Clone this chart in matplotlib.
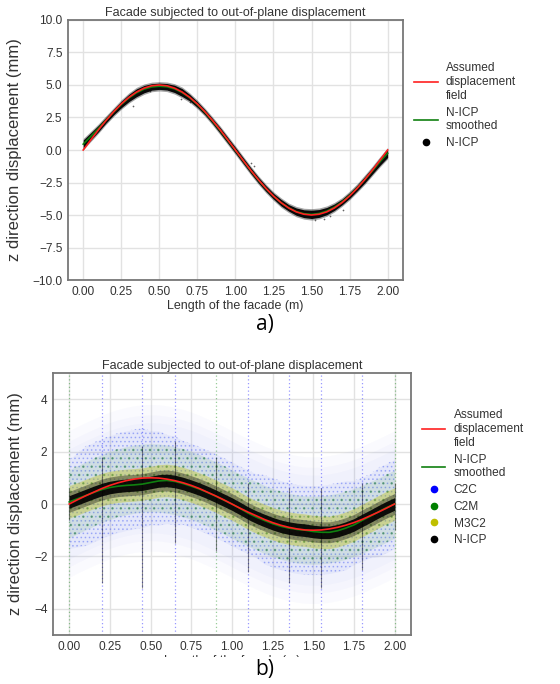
import matplotlib
matplotlib.use('Agg')
import matplotlib.pyplot as plt
from matplotlib.lines import Line2D
from matplotlib.patches import Rectangle
from matplotlib.transforms import Bbox
import numpy as np

plt.rcParams['font.family'] = ['Liberation Sans', 'DejaVu Sans']
plt.rcParams['hatch.linewidth'] = 0.7

# ---------------- data ----------------
positions_m = [0.00, 0.05, 0.10, 0.15, 0.20, 0.25, 0.30, 0.35, 0.40, 0.45,
               0.50, 0.55, 0.60, 0.65, 0.70, 0.75, 0.80, 0.85, 0.90, 0.95,
               1.00, 1.05, 1.10, 1.15, 1.20, 1.25, 1.30, 1.35, 1.40, 1.45,
               1.50, 1.55, 1.60, 1.65, 1.70, 1.75, 1.80, 1.85, 1.90, 1.95, 2.00]

# panel a)
assumed_a = [0.00, 0.78, 1.55, 2.27, 2.94, 3.54, 4.05, 4.46, 4.76, 4.94,
             5.00, 4.94, 4.76, 4.46, 4.05, 3.54, 2.94, 2.27, 1.55, 0.78,
             0.00, -0.78, -1.55, -2.27, -2.94, -3.54, -4.05, -4.46, -4.76, -4.94,
             -5.00, -4.94, -4.76, -4.46, -4.05, -3.54, -2.94, -2.27, -1.55, -0.78, 0.00]
smoothed_a = [0.45, 1.05, 1.65, 2.30, 2.92, 3.50, 4.00, 4.40, 4.68, 4.85,
              4.90, 4.86, 4.70, 4.42, 4.02, 3.50, 2.90, 2.22, 1.50, 0.74,
              -0.02, -0.80, -1.57, -2.30, -2.96, -3.55, -4.05, -4.45, -4.74, -4.90,
              -4.95, -4.88, -4.70, -4.40, -4.00, -3.50, -2.92, -2.28, -1.60, -0.90, -0.25]
nicp_spread_a = [0.32, 0.28, 0.25, 0.22, 0.22, 0.25, 0.28, 0.30, 0.28, 0.25,
                 0.24, 0.25, 0.28, 0.30, 0.25, 0.22, 0.20, 0.20, 0.22, 0.22,
                 0.22, 0.22, 0.22, 0.22, 0.22, 0.22, 0.25, 0.25, 0.28, 0.30,
                 0.32, 0.30, 0.28, 0.25, 0.22, 0.22, 0.22, 0.25, 0.25, 0.28, 0.32]
nicp_outlier_x_a = [0.33, 0.64, 0.70, 1.10, 1.12, 1.52, 1.62, 1.66, 0.44, 1.71, 1.58]
nicp_outlier_y_a = [3.40, 3.90, 3.70, -1.00, -1.20, -5.40, -5.10, -4.20, 4.50, -4.60, -5.30]

# panel b)
assumed_b = [0.00, 0.16, 0.31, 0.45, 0.59, 0.71, 0.81, 0.89, 0.95, 0.99,
             1.00, 0.99, 0.95, 0.89, 0.81, 0.71, 0.59, 0.45, 0.31, 0.16,
             0.00, -0.16, -0.31, -0.45, -0.59, -0.71, -0.81, -0.89, -0.95, -0.99,
             -1.00, -0.99, -0.95, -0.89, -0.81, -0.71, -0.59, -0.45, -0.31, -0.16, 0.00]
smoothed_b = [0.08, 0.20, 0.32, 0.44, 0.55, 0.63, 0.68, 0.71, 0.73, 0.76,
              0.82, 0.88, 0.90, 0.86, 0.78, 0.68, 0.57, 0.44, 0.30, 0.15,
              0.00, -0.17, -0.35, -0.50, -0.63, -0.75, -0.85, -0.92, -0.97, -1.00,
              -1.05, -1.08, -1.08, -1.02, -0.92, -0.80, -0.63, -0.47, -0.30, -0.14, 0.00]
c2c_halo_spreads_b = [2.8, 2.4, 2.1]
c2c_spread_b = [1.7, 1.8, 1.9, 1.9, 1.9, 1.9, 1.9, 1.9, 1.9, 1.9,
                1.8, 1.8, 1.7, 1.7, 1.6, 1.6, 1.6, 1.6, 1.6, 1.6,
                1.6, 1.6, 1.6, 1.6, 1.7, 1.7, 1.7, 1.7, 1.7, 1.7,
                1.7, 1.7, 1.7, 1.7, 1.7, 1.6, 1.6, 1.6, 1.7, 1.7, 1.7]
c2m_spread_b = [1.3] * 41
m3c2_spread_b = [0.62] * 41
nicp_spread_b = [0.24] * 41
nicp_fuzz_b = [0.40] * 41

streak_x_b = [0.00, 0.20, 0.45, 0.65, 0.90, 1.10, 1.35, 1.55, 1.80, 2.00]
streak_colors_b = ['g', 'b', 'b', 'b', 'g', 'b', 'b', 'b', 'b', 'g']
streak_lo_b = [-0.6, -3.0, -3.2, -1.5, -1.8, -2.6, -3.0, -3.2, -2.5, -1.0]
streak_hi_b = [0.6, 1.8, 2.2, 2.4, 1.8, 0.8, 0.6, 0.6, 0.8, 0.8]

xticks = [0.00, 0.25, 0.50, 0.75, 1.00, 1.25, 1.50, 1.75, 2.00]
yticks_a = [-10.0, -7.5, -5.0, -2.5, 0.0, 2.5, 5.0, 7.5, 10.0]
yticks_b = [-4, -2, 0, 2, 4]

title = 'Facade subjected to out-of-plane displacement'
xlabel = 'Length of the facade (m)'
ylabel = 'z direction displacement (mm)'

# ---------------- figure ----------------
fig = plt.figure(figsize=(5.6, 6.84), dpi=100)
TXT = '#333333'
RED = '#ff2020'
GRN = '#108010'


def fmt(v, nd):
    s = ('%.' + str(nd) + 'f') % v
    return s.replace('-', '\u2212')


def style(ax):
    ax.set_facecolor('white')
    ax.grid(True, color='#e2e2e2', lw=1.0)
    ax.set_axisbelow(True)
    for s in ax.spines.values():
        s.set_color('#777777')
        s.set_linewidth(1.3)
    ax.tick_params(length=0, pad=4, labelsize=8.6, labelcolor=TXT)
    ax.set_xlim(-0.1, 2.1)
    ax.set_xticks(xticks)
    ax.set_xticklabels([fmt(t, 2) for t in xticks])


x = np.array(positions_m)

# ---- panel a ----
axa = fig.add_axes([0.1214, 0.5906, 0.598, 0.3802])
style(axa)
sa = np.array(smoothed_a)
wa = np.array(nicp_spread_a)
axa.fill_between(x, sa - wa - 0.12, sa + wa + 0.12, color='black', alpha=0.35, lw=0, zorder=2)
axa.fill_between(x, sa - wa, sa + wa, color='black', alpha=0.95, lw=0, zorder=2)
axa.scatter(nicp_outlier_x_a, nicp_outlier_y_a, s=1.5, color='black', alpha=0.6, lw=0, zorder=2)
axa.plot(x, assumed_a, color=RED, lw=1.2, zorder=4)
axa.plot(x, smoothed_a, color=GRN, lw=1.2, zorder=3)
axa.set_ylim(-10, 10)
axa.set_yticks(yticks_a)
axa.set_yticklabels([fmt(t, 1) for t in yticks_a])
axa.set_title(title, fontsize=9, color=TXT, pad=3)
axa.set_xlabel(xlabel, fontsize=9, color=TXT, labelpad=2)
axa.set_ylabel(ylabel, fontsize=12, color=TXT)
axa.yaxis.set_label_coords(-0.137, 0.5)

handles_a = [Line2D([], [], color=RED, lw=1.2),
             Line2D([], [], color=GRN, lw=1.2),
             Line2D([], [], color='black', marker='o', ls='none', markersize=4.5)]
labels_a = ['Assumed\ndisplacement\nfield', 'N-ICP\nsmoothed', 'N-ICP']
leg = axa.legend(handles_a, labels_a, loc='center left', bbox_to_anchor=(1.0, 0.67),
                 frameon=False, fontsize=8.6, handlelength=2.0, handletextpad=0.7,
                 labelspacing=0.4)
for t in leg.get_texts():
    t.set_color(TXT)

fig.text(0.473, 0.525, 'a)', fontsize=15, ha='center', va='center', color='black',
         family=['Open Sans', 'DejaVu Sans'])

# ---- panel b ----
axb = fig.add_axes([0.0946, 0.0716, 0.639, 0.3831])
style(axb)
cb = np.array(assumed_b)
sb = np.array(smoothed_b)
db = np.array(c2c_spread_b)
gb = np.array(c2m_spread_b)
# C2C cloud: fading halo + dense core with speckle texture
for h in c2c_halo_spreads_b:
    axb.fill_between(x, cb - h, cb + h, color=(0.2, 0.3, 0.9), alpha=0.025, lw=0, zorder=1)
axb.fill_between(x, cb - db, cb + db, color=(0.2, 0.3, 0.9), alpha=0.06, lw=0, zorder=1)
axb.fill_between(x, cb - db, cb + db, facecolor='none', edgecolor=(0.2, 0.3, 0.95, 0.32),
                 hatch='....', lw=0, zorder=1)
# C2M cloud
axb.fill_between(x, cb - gb, cb + gb, color='g', alpha=0.09, lw=0, zorder=1)
axb.fill_between(x, cb - gb, cb + gb, facecolor='none', edgecolor=(0.0, 0.45, 0.0, 0.3),
                 hatch='..', lw=0, zorder=1)
axb.vlines(streak_x_b, -5, 5, colors=streak_colors_b, linestyles=(0, (1, 2)),
           lw=0.9, alpha=0.4, zorder=1)
# M3C2
axb.fill_between(x, sb - np.array(m3c2_spread_b), sb + np.array(m3c2_spread_b),
                 color='y', alpha=0.35, lw=0, zorder=2)
axb.vlines(streak_x_b, streak_lo_b, streak_hi_b, colors='black', lw=0.8, alpha=0.45, zorder=2)
# N-ICP
axb.fill_between(x, sb - np.array(nicp_fuzz_b), sb + np.array(nicp_fuzz_b),
                 color='black', alpha=0.35, lw=0, zorder=2)
axb.fill_between(x, sb - np.array(nicp_spread_b), sb + np.array(nicp_spread_b),
                 color='black', alpha=0.9, lw=0, zorder=2)
axb.plot(x, assumed_b, color=RED, lw=1.2, zorder=4)
axb.plot(x, smoothed_b, color=GRN, lw=1.2, zorder=3)
axb.set_ylim(-5, 5)
axb.set_yticks(yticks_b)
axb.set_yticklabels([fmt(t, 0) for t in yticks_b])
axb.set_title(title, fontsize=9, color=TXT, pad=3)
axb.set_xlabel(xlabel, fontsize=9, color=TXT, labelpad=2)
axb.set_ylabel(ylabel, fontsize=12, color=TXT)
axb.yaxis.set_label_coords(-0.084, 0.5)
# the source image is cropped just below the top of this label
axb.xaxis.label.set_clip_box(Bbox.from_extents(0, 684 - 657, 560, 684))
axb.xaxis.label.set_clip_on(True)

handles_b = [Line2D([], [], color=RED, lw=1.2),
             Line2D([], [], color=GRN, lw=1.2),
             Line2D([], [], color='b', marker='o', ls='none', markersize=4.5),
             Line2D([], [], color='g', marker='o', ls='none', markersize=4.5),
             Line2D([], [], color='y', marker='o', ls='none', markersize=4.5),
             Line2D([], [], color='black', marker='o', ls='none', markersize=4.5)]
labels_b = ['Assumed\ndisplacement\nfield', 'N-ICP\nsmoothed', 'C2C', 'C2M', 'M3C2', 'N-ICP']
leg = axb.legend(handles_b, labels_b, loc='center left', bbox_to_anchor=(1.0, 0.6),
                 frameon=False, fontsize=8.6, handlelength=2.0, handletextpad=0.7,
                 labelspacing=0.4)
for t in leg.get_texts():
    t.set_color(TXT)

fig.add_artist(Rectangle((0, 0), 1, (684 - 657) / 684, transform=fig.transFigure,
                         facecolor='white', edgecolor='none', zorder=10))
fig.text(0.473, 0.021, 'b)', fontsize=15, ha='center', va='center', color='black',
         family=['Open Sans', 'DejaVu Sans'], zorder=11)

fig.savefig('out.png', dpi=100, facecolor='white')
